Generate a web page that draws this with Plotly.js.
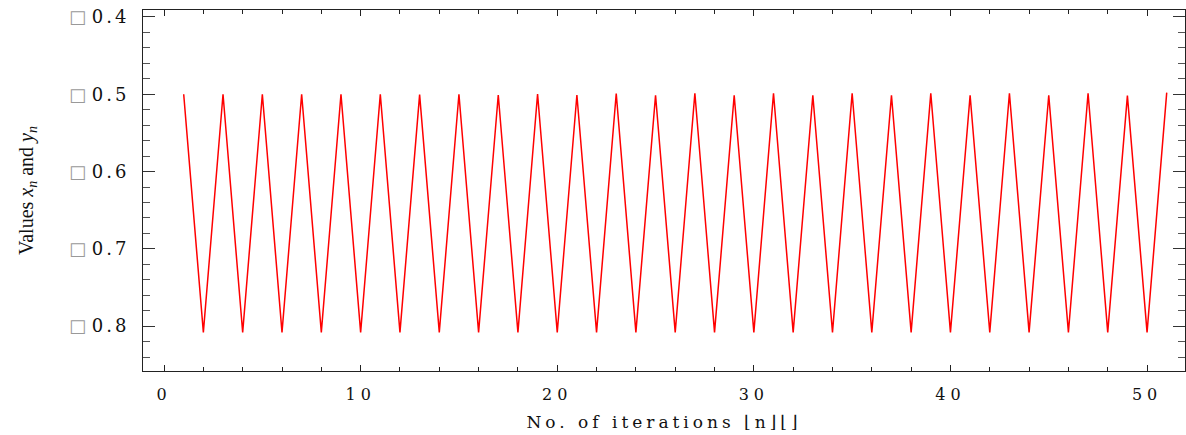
<!DOCTYPE html>
<html>
<head>
<meta charset="utf-8">
<script src="https://cdn.plot.ly/plotly-3.0.1.min.js"></script>
<style>
html,body{margin:0;padding:0;background:#fff;}
#chart{width:1186px;height:435px;}
</style>
</head>
<body>
<div id="chart"></div>
<script>
// iteration index n
const iterations = [1,2,3,4,5,6,7,8,9,10,11,12,13,14,15,16,17,18,19,20,21,22,23,24,25,26,27,28,29,30,31,32,33,34,35,36,37,38,39,40,41,42,43,44,45,46,47,48,49,50,51];
// values x_n / y_n
const values = [
  -0.500,-0.808,-0.500,-0.808,-0.500,-0.808,-0.500,-0.808,-0.500,-0.808,
  -0.500,-0.808,-0.5004,-0.808,-0.500,-0.808,-0.5009,-0.808,-0.4996,-0.808,
  -0.5009,-0.808,-0.4991,-0.808,-0.5013,-0.808,-0.4987,-0.808,-0.5013,-0.808,
  -0.4987,-0.808,-0.5013,-0.808,-0.4987,-0.808,-0.5013,-0.808,-0.4987,-0.808,
  -0.5013,-0.808,-0.4987,-0.808,-0.5013,-0.808,-0.4987,-0.808,-0.5017,-0.808,
  -0.4979
];
const yTickVals = [-0.4,-0.5,-0.6,-0.7,-0.8];
const yTickLabels = ['0.4','0.5','0.6','0.7','0.8'];
const xTickVals = [0,10,20,30,40,50];
const xTickLabels = ['0','10','20','30','40','50'];

const yTickText = yTickLabels.map(t => '<span style="color:#999">□</span> <span style="letter-spacing:3px">' + t + '</span>');
const xTickText = xTickLabels.map(t => '<span style="letter-spacing:5px">' + t + '</span>');

const trace = {
  x: iterations, y: values, type: 'scatter', mode: 'lines',
  line: {color: '#ff0000', width: 1.5},
  hoverinfo: 'x+y'
};

const layout = {
  width: 1186, height: 435,
  margin: {l: 143, r: 1, t: 10, b: 64, pad: 0},
  paper_bgcolor: '#fff', plot_bgcolor: '#fff',
  showlegend: false,
  xaxis: {
    range: [-1.07, 51.93],
    tickmode: 'array', tickvals: xTickVals, ticktext: xTickText,
    ticks: 'inside', ticklen: 6, tickwidth: 1, tickcolor: '#222',
    minor: {dtick: 2, tick0: 0, ticks: 'inside', ticklen: 4, tickcolor: '#222', showgrid: false},
    showline: true, linecolor: '#222', linewidth: 1, mirror: 'ticks',
    showgrid: false, zeroline: false,
    ticklabelstandoff: 9,
    tickfont: {family: 'DejaVu Serif', size: 16, color: '#111'},
    title: {text: '<span style="letter-spacing:4px">No. of iterations ⌊n⌋⌊⌋</span>', font: {family: 'DejaVu Serif', size: 17, color: '#111'}, standoff: 12}
  },
  yaxis: {
    range: [-0.858, -0.391],
    tickmode: 'array', tickvals: yTickVals, ticktext: yTickText,
    ticks: 'inside', ticklen: 12, tickwidth: 1, tickcolor: '#333',
    minor: {dtick: 0.02, tick0: 0, ticks: 'inside', ticklen: 7, tickcolor: '#555', showgrid: false},
    showline: true, linecolor: '#222', linewidth: 1, mirror: 'ticks',
    showgrid: false, zeroline: false,
    ticklabelstandoff: 9,
    tickfont: {family: 'DejaVu Serif', size: 18, color: '#111'},
    title: {text: 'Values <i>x<sub>n</sub></i> and <i>y<sub>n</sub></i>', font: {family: 'Liberation Serif', size: 20, color: '#111'}, standoff: 30}
  }
};

Plotly.newPlot('chart', [trace], layout, {displayModeBar: false});
</script>
</body>
</html>
